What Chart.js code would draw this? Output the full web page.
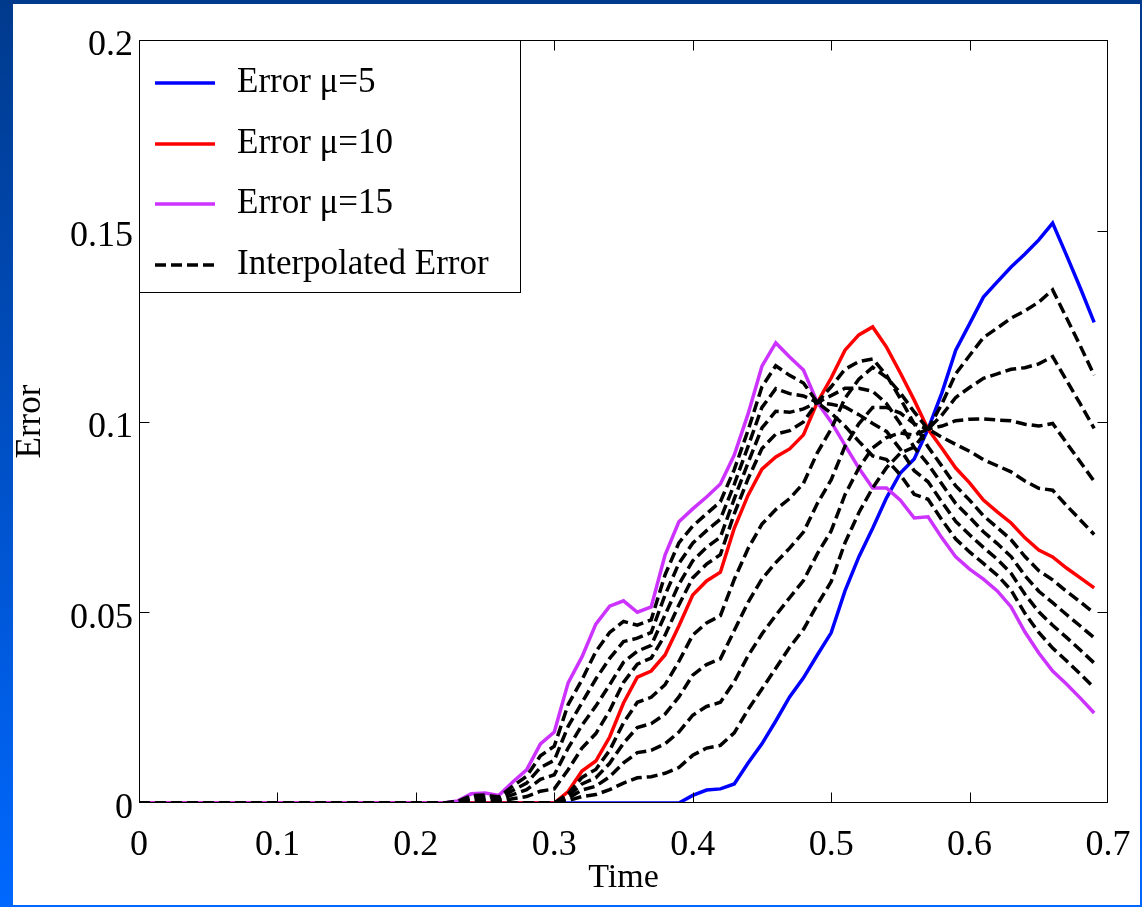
<!DOCTYPE html>
<html><head><meta charset="utf-8">
<script src="https://cdn.jsdelivr.net/npm/chart.js@4.4.1/dist/chart.umd.min.js"></script>
<style>
html,body{margin:0;padding:0;width:1142px;height:907px;overflow:hidden;}
body{background:linear-gradient(180deg,#003a8d 0%,#0050c6 50%,#0068ff 100%);position:relative;}
#wrap{position:absolute;left:13px;top:4px;width:1127px;height:901px;background:#fff;}
canvas{display:block;}
</style></head><body>
<div id="wrap"><canvas id="c" width="1127" height="901"></canvas></div>
<script>
const time = [0,0.01,0.02,0.03,0.04,0.05,0.06,0.07,0.08,0.09,
  0.10,0.11,0.12,0.13,0.14,0.15,0.16,0.17,0.18,0.19,
  0.20,0.21,0.22,0.23,0.24,0.25,0.26,0.27,0.28,0.29,
  0.30,0.31,0.32,0.33,0.34,0.35,0.36,0.37,0.38,0.39,
  0.40,0.41,0.42,0.43,0.44,0.45,0.46,0.47,0.48,0.49,
  0.50,0.51,0.52,0.53,0.54,0.55,0.56,0.57,0.58,0.59,
  0.60,0.61,0.62,0.63,0.64,0.65,0.66,0.67,0.68,0.69];

const errMu5 = [0,0,0,0,0,0,0,0,0,0, 0,0,0,0,0,0,0,0,0,0, 0,0,0,0,0,0,0,0,0,0, 0,0,0,0,0,0,0,0,0,0,
  0.002,0.0034,0.0037,0.005,0.0105,0.0155,0.0215,0.0278,0.0328,0.0388,
  0.0446,0.0556,0.0645,0.072,0.08,0.0865,0.0902,0.098,0.1075,0.1187,
  0.1256,0.1326,0.1366,0.1405,0.1439,0.1476,0.152,0.1436,0.135,0.126];

const errMu10 = [0,0,0,0,0,0,0,0,0,0, 0,0,0,0,0,0,0,0,0,0, 0,0,0,0,0,0,0,0,0,0, 0,
  0.003,0.0084,0.011,0.0173,0.0262,0.033,0.0346,0.0388,0.0464,
  0.0545,0.0582,0.0605,0.072,0.0807,0.0875,0.0907,0.0928,0.0965,0.105,
  0.1114,0.1187,0.1227,0.1248,0.1195,0.1127,0.1056,0.098,0.093,0.0878,
  0.0839,0.0794,0.0763,0.0734,0.0695,0.0663,0.0645,0.0616,0.059,0.0564];

const errMu15 = [0,0,0,0,0,0,0,0,0,0, 0,0,0,0,0,0,0,0,0,0, 0,0,0,
  0.0005,0.0024,0.0026,0.002,0.0055,0.0087,0.0155,
  0.0186,0.0315,0.0383,0.0469,0.0516,0.053,0.050,0.0514,0.065,0.0737,
  0.0771,0.0802,0.0836,0.0912,0.102,0.1145,0.1206,0.1169,0.1135,0.105,
  0.0999,0.0938,0.0878,0.0826,0.0826,0.0794,0.0747,0.075,0.0695,0.0645,
  0.0613,0.0587,0.0556,0.0514,0.0448,0.0393,0.0346,0.0312,0.0275,0.0236];

const interpMu6 = [0,0,0,0,0,0,0,0,0,0, 0,0,0,0,0,0,0,0,0,0, 0,0,0,0,0,0,0,0,0,0, 0,
  0.0006,0.0017,0.0022,0.0035,0.0052,0.0066,0.0069,0.0078,0.0093,
  0.0125,0.0144,0.0151,0.0184,0.0245,0.0299,0.0353,0.0408,0.0455,0.052,
  0.058,0.0682,0.0761,0.0826,0.0879,0.0917,0.0933,0.098,0.1046,0.1125,
  0.1173,0.122,0.1245,0.1271,0.129,0.1313,0.1345,0.1272,0.1198,0.1121];

const interpMu7 = [0,0,0,0,0,0,0,0,0,0, 0,0,0,0,0,0,0,0,0,0, 0,0,0,0,0,0,0,0,0,0, 0,
  0.0012,0.0034,0.0044,0.0069,0.0105,0.0132,0.0138,0.0155,0.0186,
  0.023,0.0253,0.0264,0.0318,0.0386,0.0443,0.0492,0.0538,0.0583,0.0653,
  0.0713,0.0808,0.0878,0.0931,0.0958,0.097,0.0964,0.098,0.1017,0.1063,
  0.1089,0.1113,0.1125,0.1137,0.1141,0.1151,0.117,0.1108,0.1046,0.0982];

const interpMu8 = [0,0,0,0,0,0,0,0,0,0, 0,0,0,0,0,0,0,0,0,0, 0,0,0,0,0,0,0,0,0,0, 0,
  0.0018,0.005,0.0066,0.0104,0.0157,0.0198,0.0208,0.0233,0.0278,
  0.0335,0.0363,0.0378,0.0452,0.0526,0.0587,0.063,0.0668,0.071,0.0785,
  0.0847,0.0935,0.0994,0.1037,0.1037,0.1022,0.0994,0.098,0.0988,0.1002,
  0.1006,0.1007,0.1004,0.1002,0.0993,0.0988,0.0995,0.0944,0.0894,0.0843];

const interpMu9 = [0,0,0,0,0,0,0,0,0,0, 0,0,0,0,0,0,0,0,0,0, 0,0,0,0,0,0,0,0,0,0, 0,
  0.0024,0.0067,0.0088,0.0138,0.021,0.0264,0.0277,0.031,0.0371,
  0.044,0.0472,0.0491,0.0586,0.0667,0.0731,0.0769,0.0798,0.0838,0.0918,
  0.098,0.1061,0.1111,0.1142,0.1116,0.1075,0.1025,0.098,0.0959,0.094,
  0.0922,0.09,0.0884,0.0868,0.0844,0.0825,0.082,0.078,0.0742,0.0704];

const interpMu11 = [0,0,0,0,0,0,0,0,0,0, 0,0,0,0,0,0,0,0,0,0, 0,0,0,
  0.0001,0.0005,0.0005,0.0004,0.0011,0.0017,0.0031,
  0.0037,0.0087,0.0144,0.0182,0.0242,0.0316,0.0364,0.038,0.044,0.0519,
  0.059,0.0626,0.0651,0.0758,0.085,0.0929,0.0967,0.0976,0.0999,0.105,
  0.1091,0.1137,0.1157,0.1164,0.1121,0.106,0.0994,0.0934,0.0883,0.0831,
  0.0794,0.0753,0.0722,0.069,0.0646,0.0609,0.0585,0.0555,0.0527,0.0498];

const interpMu12 = [0,0,0,0,0,0,0,0,0,0, 0,0,0,0,0,0,0,0,0,0, 0,0,0,
  0.0002,0.001,0.001,0.0008,0.0022,0.0035,0.0062,
  0.0074,0.0144,0.0204,0.0254,0.031,0.0369,0.0398,0.0413,0.0493,0.0573,
  0.0635,0.067,0.0697,0.0797,0.0892,0.0983,0.1027,0.1024,0.1033,0.105,
  0.1068,0.1087,0.1087,0.1079,0.1047,0.0994,0.0932,0.0888,0.0836,0.0785,
  0.0749,0.0711,0.068,0.0646,0.0596,0.0555,0.0525,0.0494,0.0464,0.0433];

const interpMu13 = [0,0,0,0,0,0,0,0,0,0, 0,0,0,0,0,0,0,0,0,0, 0,0,0,
  0.0003,0.0014,0.0016,0.0012,0.0033,0.0052,0.0093,
  0.0112,0.0201,0.0263,0.0325,0.0379,0.0423,0.0432,0.0447,0.0545,0.0628,
  0.0681,0.0714,0.0744,0.0835,0.0935,0.1037,0.1086,0.1073,0.1067,0.105,
  0.1045,0.1038,0.1018,0.0995,0.0974,0.0927,0.0871,0.0842,0.0789,0.0738,
  0.0703,0.067,0.0639,0.0602,0.0547,0.0501,0.0466,0.0434,0.0401,0.0367];

const interpMu14 = [0,0,0,0,0,0,0,0,0,0, 0,0,0,0,0,0,0,0,0,0, 0,0,0,
  0.0004,0.0019,0.0021,0.0016,0.0044,0.007,0.0124,
  0.0149,0.0258,0.0323,0.0397,0.0447,0.0476,0.0466,0.048,0.0598,0.0682,
  0.0726,0.0758,0.079,0.0874,0.0977,0.1091,0.1146,0.1121,0.1101,0.105,
  0.1022,0.0988,0.0948,0.091,0.09,0.086,0.0809,0.0796,0.0742,0.0692,
  0.0658,0.0628,0.0597,0.0558,0.0497,0.0447,0.0406,0.0373,0.0338,0.0302];

const xTicks = [0,0.1,0.2,0.3,0.4,0.5,0.6,0.7];
const yTicks = [0,0.05,0.1,0.15,0.2];

const serif = "'Liberation Serif','Times New Roman',serif";
const fmt = v => String(Math.round(v*100)/100);

function solid(label, data, color, order){
  return {label, data, borderColor: color, backgroundColor: color, borderWidth: 3.5, order, pointRadius: 0, tension: 0, fill: false};
}
function dashed(data){
  return {label:'Interpolated Error', data, borderColor:'#000', backgroundColor:'#000', borderWidth:3.5, borderDash:[11,5], order:1, pointRadius:0, tension:0, fill:false};
}

const framePlugin = {
  id:'frame',
  afterDatasetsDraw(chart){
    const {ctx, chartArea:a, scales:{x, y}} = chart;
    ctx.save();
    ctx.strokeStyle = '#000'; ctx.lineWidth = 1;
    const L = Math.round(a.left)+0.5, R = Math.round(a.right)-0.5, T = Math.round(a.top)+0.5, B = Math.round(a.bottom)-0.5;
    ctx.strokeRect(L, T, R-L, B-T);
    ctx.beginPath();
    xTicks.slice(1,-1).forEach(v=>{
      const px = Math.round(x.getPixelForValue(v))+0.5;
      ctx.moveTo(px, B); ctx.lineTo(px, B-10);
      ctx.moveTo(px, T); ctx.lineTo(px, T+10);
    });
    yTicks.slice(1,-1).forEach(v=>{
      const py = Math.round(y.getPixelForValue(v))+0.5;
      ctx.moveTo(L, py); ctx.lineTo(L+10, py);
      ctx.moveTo(R, py); ctx.lineTo(R-10, py);
    });
    ctx.stroke();
    ctx.restore();
  }
};

const legendPlugin = {
  id:'boxLegend',
  afterDraw(chart){
    const {ctx, chartArea:a} = chart;
    const seen = new Set(), items = [];
    chart.data.datasets.forEach(ds=>{ if(!seen.has(ds.label)){ seen.add(ds.label); items.push(ds); } });
    ctx.save();
    const L = Math.round(a.left)+0.5, T = Math.round(a.top)+0.5;
    ctx.fillStyle = '#fff'; ctx.fillRect(L, T, 381, 252);
    ctx.strokeStyle = '#000'; ctx.lineWidth = 1; ctx.strokeRect(L, T, 381, 252);
    ctx.font = '35px ' + serif; ctx.textBaseline = 'middle'; ctx.textAlign = 'left';
    items.forEach((ds, i)=>{
      const yy = Math.round(a.top + 43 + i*60.7);
      ctx.beginPath();
      ctx.setLineDash(ds.borderDash || []);
      ctx.strokeStyle = ds.borderColor; ctx.lineWidth = ds.borderWidth;
      ctx.moveTo(a.left+16, yy); ctx.lineTo(a.left+76, yy); ctx.stroke();
      ctx.setLineDash([]);
      ctx.fillStyle = '#000';
      ctx.fillText(ds.label, a.left+98, yy);
    });
    ctx.restore();
  }
};

new Chart(document.getElementById('c'), {
  type:'line',
  data:{
    labels: time,
    datasets:[
      solid('Error \u03bc=5', errMu5, '#0000ff', 4),
      solid('Error \u03bc=10', errMu10, '#ff0000', 3),
      solid('Error \u03bc=15', errMu15, '#cc33ff', 2),
      dashed(interpMu6), dashed(interpMu7), dashed(interpMu8), dashed(interpMu9),
      dashed(interpMu11), dashed(interpMu12), dashed(interpMu13), dashed(interpMu14)
    ]
  },
  options:{
    responsive:false, animation:false, devicePixelRatio:1,
    layout:{padding:{left:0, top:36, right:32, bottom:7}},
    plugins:{legend:{display:false}, tooltip:{enabled:false}},
    scales:{
      x:{type:'linear', min:0, max:0.7,
        grid:{display:false, drawTicks:false}, border:{display:false},
        afterBuildTicks(s){ s.ticks = xTicks.map(v=>({value:v})); },
        ticks:{font:{family:serif, size:36}, color:'#000', padding:21, maxRotation:0, autoSkip:false, callback: fmt},
        title:{display:true, text:'Time', font:{family:serif, size:34}, color:'#000', padding:{top:0, bottom:0}},
        afterFit(s){ s.height = 95; s.paddingLeft = 0; s.paddingRight = 0; }
      },
      y:{type:'linear', min:0, max:0.2,
        grid:{display:false, drawTicks:false}, border:{display:false},
        afterBuildTicks(s){ s.ticks = yTicks.map(v=>({value:v})); },
        ticks:{font:{family:serif, size:36}, color:'#000', padding:6, labelOffset:6, callback: fmt},
        title:{display:true, text:'Error', font:{family:serif, size:35, lineHeight:1}, color:'#000', padding:{top:0, bottom:0}},
        afterFit(s){ s.width = 126; s.paddingTop = 0; s.paddingBottom = 0; }
      }
    }
  },
  plugins:[framePlugin, legendPlugin]
});
</script></body></html>
